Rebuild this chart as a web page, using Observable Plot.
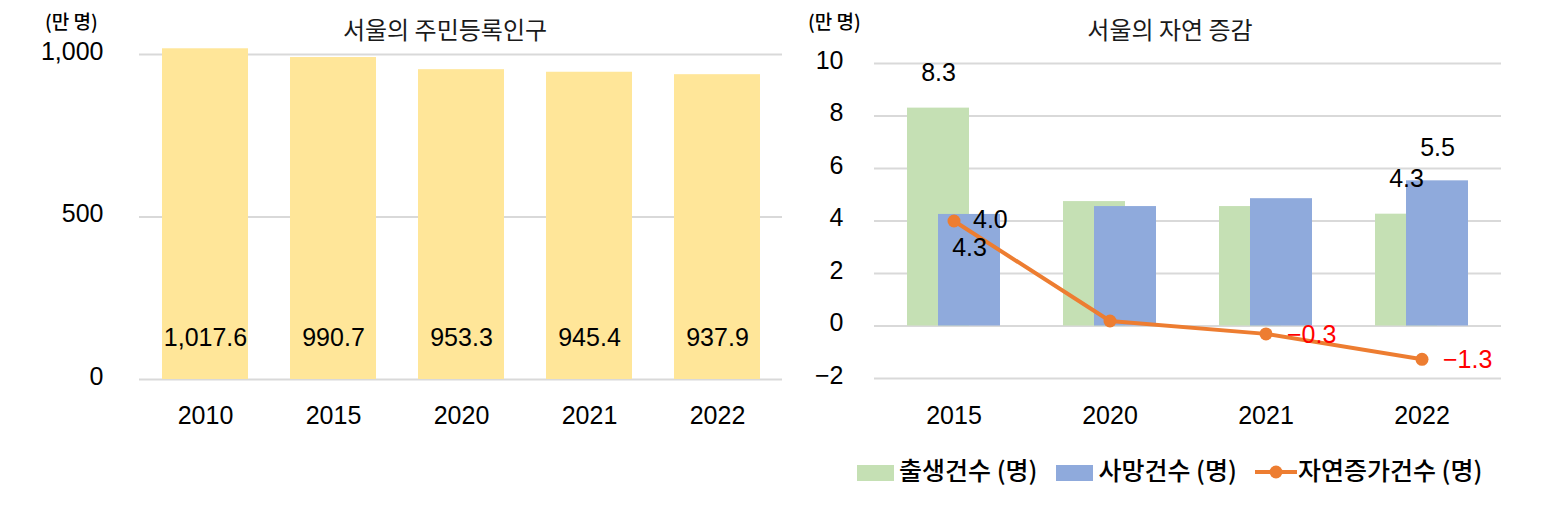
<!DOCTYPE html>
<html><head><meta charset="utf-8">
<script src="https://cdn.jsdelivr.net/npm/d3@7"></script>
<script src="https://cdn.jsdelivr.net/npm/@observablehq/plot@0.6"></script>
<style>
html,body{margin:0;padding:0;background:#fff;}
body{width:1555px;height:514px;overflow:hidden;position:relative;font-family:"Liberation Sans","Noto Sans CJK KR",sans-serif;color:#000;}
.abs{position:absolute;white-space:nowrap;line-height:1;}
.title{font-family:"Noto Sans CJK KR",sans-serif;font-size:24px;color:#1a1a1a;transform:translateX(-50%);}
.unit{font-family:"Noto Sans CJK KR",sans-serif;font-size:19px;font-weight:500;}
.legend{display:flex;align-items:center;font-family:"Noto Sans CJK KR",sans-serif;font-size:25px;font-weight:500;}
.sw{width:37px;height:16px;display:inline-block;margin-right:5px;margin-top:8px;}
</style></head><body>
<div id="left" class="abs" style="left:0;top:0;"></div>
<div id="right" class="abs" style="left:780px;top:0;"></div>
<div class="abs title" style="left:445px;top:17px;">서울의 주민등록인구</div>
<div class="abs title" style="left:1170px;top:17px;">서울의 자연 증감</div>
<div class="abs unit" style="left:45px;top:11px;">(만 명)</div>
<div class="abs unit" style="left:808px;top:11px;">(만 명)</div>
<div id="legend" class="abs legend" style="left:857px;top:456px;"></div>
<script>
// ---- Data ----
const popYears = ["2010", "2015", "2020", "2021", "2022"];
const popValues = [1017.6, 990.7, 953.3, 945.4, 937.9];
const popTicks = [0, 500, 1000];

const vitalYears = ["2015", "2020", "2021", "2022"];
const births = [8.3, 4.74, 4.55, 4.26];
const deaths = [4.25, 4.55, 4.85, 5.53];
const natural = [4.0, 0.19, -0.3, -1.27];
const birthLabels = ["8.3", null, null, "4.3"];
const deathLabels = ["4.3", null, null, "5.5"];
const naturalLabels = ["4.0", null, "\u22120.3", "\u22121.3"];
const vitalTicks = [-2, 0, 2, 4, 6, 8, 10];

const seriesNames = ["출생건수 (명)", "사망건수 (명)", "자연증가건수 (명)"];
const colors = {birth: "#C5E0B4", death: "#8FAADC", natural: "#ED7D31", pop: "#FFE699", grid: "#D9D9D9", neg: "#FF0000"};

const pop = popYears.map((year, i) => ({year, value: popValues[i]}));
const vital = vitalYears.map((year, i) => ({
  year, births: births[i], deaths: deaths[i], natural: natural[i],
  bl: birthLabels[i], dl: deathLabels[i], nl: naturalLabels[i]
}));

const baseStyle = {fontFamily: "Liberation Sans, Noto Sans CJK KR, sans-serif", fontSize: "25px", color: "#000", background: "transparent", overflow: "visible"};

// ---- Left chart ----
const left = Plot.plot({
  width: 790, height: 440,
  marginTop: 54, marginBottom: 61, marginLeft: 139, marginRight: 8,
  style: baseStyle,
  x: {domain: popYears, paddingInner: 0.331, paddingOuter: 0.166},
  y: {domain: [0, 1000]},
  marks: [
    Plot.ruleY(popTicks, {stroke: colors.grid, strokeWidth: 2}),
    Plot.barY(pop, {x: "year", y: "value", fill: colors.pop}),
    Plot.text(pop, {x: "year", text: d => d3.format(",.1f")(d.value), frameAnchor: "bottom", dy: -34, fill: "#000"}),
    Plot.axisY(popTicks, {tickSize: 0, tickPadding: 36, tickFormat: d3.format(","), dy: -3, label: null, fill: "#000"}),
    Plot.axisX({tickSize: 0, tickPadding: 27, label: null, fill: "#000"})
  ]
});
document.getElementById("left").appendChild(left);

// ---- Right chart ----
const right = Plot.plot({
  width: 775, height: 440,
  marginTop: 63, marginBottom: 62, marginLeft: 94, marginRight: 54,
  style: baseStyle,
  x: {domain: vitalYears, paddingInner: 0.407, paddingOuter: 0.2035},
  y: {domain: [-2, 10]},
  marks: [
    Plot.ruleY(vitalTicks, {stroke: colors.grid, strokeWidth: 2}),
    Plot.barY(vital, {x: "year", y: "births", fill: colors.birth, insetRight: 31}),
    Plot.barY(vital, {x: "year", y: "deaths", fill: colors.death, insetLeft: 31}),
    Plot.line(vital, {x: "year", y: "natural", stroke: colors.natural, strokeWidth: 4}),
    Plot.dot(vital, {x: "year", y: "natural", r: 6.5, fill: colors.natural}),
    Plot.text(vital.filter(d => d.bl), {x: "year", y: "births", text: "bl", dx: -15.5, dy: -35, fill: "#000"}),
    Plot.text(vital.filter((d, i) => d.dl && i === 0), {x: "year", y: "deaths", text: "dl", dx: 15.5, dy: 34, fill: "#000"}),
    Plot.text(vital.filter((d, i) => d.dl && i > 0), {x: "year", y: "deaths", text: "dl", dx: 15.5, dy: -33, fill: "#000"}),
    Plot.text(vital.filter(d => d.nl && d.natural >= 0), {x: "year", y: "natural", text: "nl", textAnchor: "start", dx: 19, dy: -1, fill: "#000"}),
    Plot.text(vital.filter(d => d.nl && d.natural < 0), {x: "year", y: "natural", text: "nl", textAnchor: "start", dx: 21, dy: 1, fill: colors.neg}),
    Plot.axisY(vitalTicks, {tickSize: 0, tickPadding: 31, dy: -3, label: null, fill: "#000"}),
    Plot.axisX({tickSize: 0, tickPadding: 28, label: null, fill: "#000"})
  ]
});
document.getElementById("right").appendChild(right);

// ---- Legend ----
const lg = document.getElementById("legend");
const sw = (c) => `<span class="sw" style="background:${c}"></span>`;
lg.innerHTML =
  `${sw(colors.birth)}<span>${seriesNames[0]}</span>` +
  `<span style="width:19px"></span>${sw(colors.death)}<span>${seriesNames[1]}</span>` +
  `<span style="width:18px"></span>` +
  `<svg width="42" height="20" style="margin-right:1px;margin-top:6px"><line x1="0" y1="10" x2="42" y2="10" stroke="${colors.natural}" stroke-width="4"/><circle cx="21" cy="10" r="6.5" fill="${colors.natural}"/></svg>` +
  `<span>${seriesNames[2]}</span>`;
</script>
</body></html>
